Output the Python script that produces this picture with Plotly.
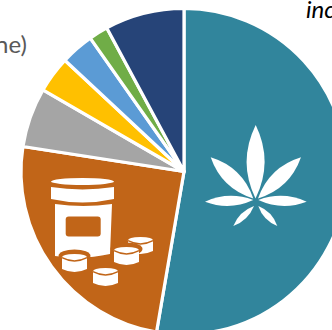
import plotly.graph_objects as go

# Share of each group, percent, clockwise from twelve o'clock
groups = ["Cannabis", "Prescription", "Group C", "Group D", "Group E", "Group F", "Group G"]
shares = [52.7, 24.75, 5.9, 3.6, 3.3, 1.9, 7.85]
slice_colors = ["#31859C", "#C16518", "#A5A5A5", "#FFC000", "#5B9BD5", "#70AD47", "#264478"]

# The canvas runs past the visible page so the circle is cut at its right and bottom edges
W, H = 350, 345
CX, CY, R = 184, 171.5, 163
BG = slice_colors[1]
WHITE = "#FFFFFF"


def px(x):
    return x / W


def py(y):
    return 1 - y / H


def pt(x, y):
    return f"{px(x):.5f},{py(y):.5f}"


def filled(path, color=WHITE):
    return dict(type="path", xref="paper", yref="paper", path=path,
                fillcolor=color, line=dict(width=0), layer="above")


def oval(cx, cy, rx, ry, color=WHITE):
    return dict(type="circle", xref="paper", yref="paper",
                x0=px(cx - rx), x1=px(cx + rx), y0=py(cy + ry), y1=py(cy - ry),
                fillcolor=color, line=dict(width=0), layer="above")


def leaf(bx, by, tx, ty, half):
    # Pointed blade from base to tip, bulging "half" pixels to either side
    dx, dy = tx - bx, ty - by
    n = (dx * dx + dy * dy) ** 0.5
    ox, oy = -dy / n * half * 2, dx / n * half * 2
    mx, my = (bx + tx) / 2, (by + ty) / 2
    return filled(f"M{pt(bx, by)} Q{pt(mx + ox, my + oy)} {pt(tx, ty)} "
                  f"Q{pt(mx - ox, my - oy)} {pt(bx, by)} Z")


def round_box(x0, y0, x1, y1, r, color):
    return filled(
        f"M{pt(x0 + r, y0)} L{pt(x1 - r, y0)} Q{pt(x1, y0)} {pt(x1, y0 + r)} "
        f"L{pt(x1, y1 - r)} Q{pt(x1, y1)} {pt(x1 - r, y1)} "
        f"L{pt(x0 + r, y1)} Q{pt(x0, y1)} {pt(x0, y1 - r)} "
        f"L{pt(x0, y0 + r)} Q{pt(x0, y0)} {pt(x0 + r, y0)} Z", color)


def pill(x0, x1, top, bottom, halo=False):
    cx, rx = (x0 + x1) / 2, (x1 - x0) / 2
    ry = 3.6
    parts = []
    if halo:
        parts.append(oval(cx, top + 2, rx + 3.5, ry + 3, BG))
    parts.append(filled(
        f"M{pt(x0, top + ry)} Q{pt(x0, top)} {pt(cx, top)} Q{pt(x1, top)} {pt(x1, top + ry)} "
        f"L{pt(x1, bottom - 3)} Q{pt(cx, bottom + 3)} {pt(x0, bottom - 3)} Z"))
    parts.append(dict(type="path", xref="paper", yref="paper", layer="above",
                      path=f"M{pt(x0, top + ry)} Q{pt(cx, top + 2 * ry + 3)} {pt(x1, top + ry)}",
                      line=dict(color=BG, width=1.5)))
    return parts


shapes = [
    # Cannabis leaf
    leaf(255.5, 198.5, 255.7, 125, 9.0),
    leaf(253.3, 198.5, 210.7, 157.3, 7.5),
    leaf(258.0, 198.5, 301.0, 157.3, 7.5),
    leaf(253.3, 200.0, 205.0, 201.7, 5.0),
    leaf(258.3, 200.0, 306.7, 201.7, 5.0),
    leaf(254.0, 206.0, 233.3, 226.0, 3.2),
    leaf(258.3, 206.0, 277.3, 226.0, 3.2),
    # Pill bottle: lid, jar, label
    oval(82.5, 181.5, 31.5, 3.4),
    filled(f"M{pt(51, 187)} Q{pt(82.5, 192)} {pt(114, 187)} L{pt(114, 199)} "
           f"Q{pt(82.5, 206)} {pt(51, 199)} Z"),
    filled(f"M{pt(55, 204)} Q{pt(83.5, 208)} {pt(112, 204)} L{pt(110, 254)} "
           f"Q{pt(83, 260)} {pt(55, 256)} Z"),
    round_box(65.7, 216.5, 100.7, 236.5, 3, BG),
]
# Loose tablets, back to front
shapes += pill(128, 153, 237, 254)
shapes += pill(114, 139, 247, 265, halo=True)
shapes += pill(62, 87, 254, 272, halo=True)
shapes += pill(93, 118, 268, 286)

fig = go.Figure(go.Pie(
    labels=groups,
    values=shares,
    sort=False,
    direction="clockwise",
    rotation=0,
    textinfo="none",
    hoverinfo="skip",
    showlegend=False,
    marker=dict(colors=slice_colors, line=dict(color=WHITE, width=3.2)),
    domain=dict(x=[px(CX - R), px(CX + R)], y=[py(CY + R), py(CY - R)]),
))

fig.update_layout(
    width=W, height=H,
    margin=dict(l=0, r=0, t=0, b=0),
    paper_bgcolor=WHITE,
    shapes=shapes,
    annotations=[
        dict(text="ne)", xref="paper", yref="paper", x=px(29), y=py(43),
             xanchor="right", yanchor="middle", showarrow=False,
             font=dict(family="Lato", size=24, color="#595959")),
        dict(text="<i>inc</i>", xref="paper", yref="paper", x=px(304), y=py(9),
             xanchor="left", yanchor="middle", showarrow=False,
             font=dict(family="Lato", size=24, color="#000000")),
    ],
)

fig.write_html(
    "out.html",
    config=dict(displayModeBar=False),
    post_script="document.documentElement.style.overflow='hidden';document.body.style.overflow='hidden';",
)
